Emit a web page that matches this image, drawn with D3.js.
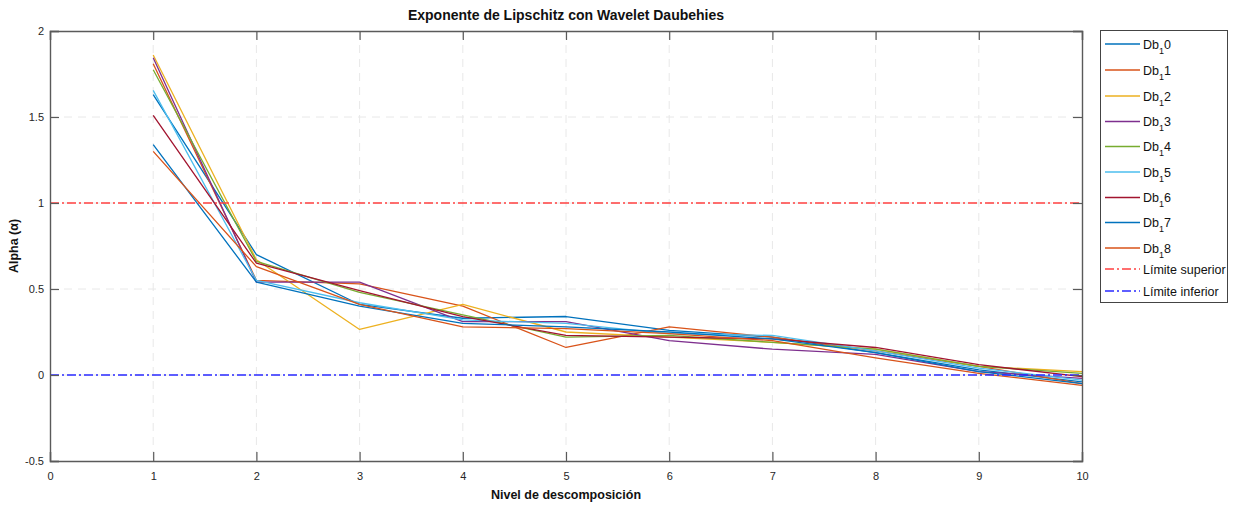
<!DOCTYPE html>
<html>
<head>
<meta charset="utf-8">
<script src="https://cdn.jsdelivr.net/npm/d3@7"></script>
<style>
  html, body { margin: 0; padding: 0; background: #fff; }
  svg { display: block; font-family: "Liberation Sans", Arial, Helvetica, sans-serif; }
</style>
</head>
<body>
<svg id="chart" width="1233" height="506"></svg>
<script>
// Decomposition levels
const levels = [1, 2, 3, 4, 5, 6, 7, 8, 9, 10];

// Lipschitz exponent per Daubechies wavelet order
const db10 = [1.63, 0.70, 0.41, 0.33, 0.34, 0.26, 0.22, 0.13, 0.03, -0.04];
const db11 = [1.81, 0.55, 0.53, 0.40, 0.16, 0.28, 0.22, 0.14, 0.05, -0.05];
const db12 = [1.86, 0.67, 0.265, 0.41, 0.25, 0.22, 0.19, 0.15, 0.05, 0.02];
const db13 = [1.845, 0.54, 0.54, 0.31, 0.31, 0.20, 0.15, 0.12, 0.02, -0.02];
const db14 = [1.775, 0.66, 0.48, 0.35, 0.22, 0.23, 0.19, 0.15, 0.05, 0.01];
const db15 = [1.655, 0.55, 0.42, 0.32, 0.30, 0.24, 0.23, 0.14, 0.04, -0.03];
const db16 = [1.51, 0.65, 0.49, 0.34, 0.23, 0.22, 0.21, 0.16, 0.06, -0.01];
const db17 = [1.34, 0.54, 0.40, 0.30, 0.28, 0.25, 0.21, 0.13, 0.02, -0.05];
const db18 = [1.30, 0.63, 0.41, 0.28, 0.27, 0.24, 0.20, 0.10, 0.01, -0.06];

const seriesNames = ["0", "1", "2", "3", "4", "5", "6", "7", "8"];
const seriesValues = [db10, db11, db12, db13, db14, db15, db16, db17, db18];

// Reference limits
const upperLimit = 1;
const lowerLimit = 0;

// Axis ticks
const xTicks = [0, 1, 2, 3, 4, 5, 6, 7, 8, 9, 10];
const yTicks = [-0.5, 0, 0.5, 1, 1.5, 2];

const palette = ["#0072BD", "#D95319", "#EDB120", "#7E2F8E", "#77AC30",
                 "#4DBEEE", "#A2142F", "#0072BD", "#D95319"];

const svg = d3.select("#chart");
const plotL = 50, plotR = 1082, plotT = 31, plotB = 461;

const x = d3.scaleLinear().domain([0, 10]).range([plotL, plotR]);
const y = d3.scaleLinear().domain([-0.5, 2]).range([plotB, plotT]);

// Grid
const grid = svg.append("g").attr("stroke", "#e8e8e8").attr("stroke-width", 1)
  .attr("stroke-dasharray", "8,6");
grid.selectAll("line.gx").data(xTicks.slice(1, -1)).join("line").attr("class", "gx")
  .attr("x1", d => x(d)).attr("x2", d => x(d)).attr("y1", plotT).attr("y2", plotB);
grid.selectAll("line.gy").data(yTicks.slice(1, -1)).join("line").attr("class", "gy")
  .attr("y1", d => y(d)).attr("y2", d => y(d)).attr("x1", plotL).attr("x2", plotR);

// Series lines
const line = d3.line().x((d, i) => x(levels[i])).y(d => y(d));
svg.append("g").selectAll("path").data(seriesValues).join("path")
  .attr("d", d => line(d))
  .attr("fill", "none")
  .attr("stroke", (d, i) => palette[i])
  .attr("stroke-width", 1.3)
  .attr("stroke-linejoin", "round");

// Limit lines
const limits = [
  { v: upperLimit, color: "#ff4040", label: "Límite superior" },
  { v: lowerLimit, color: "#2a2aff", label: "Límite inferior" }
];
svg.append("g").selectAll("line").data(limits).join("line")
  .attr("x1", plotL).attr("x2", plotR)
  .attr("y1", d => y(d.v)).attr("y2", d => y(d.v))
  .attr("stroke", d => d.color).attr("stroke-width", 1.3)
  .attr("stroke-dasharray", "9,3,2,3");

// Axes box with inward ticks
const axisColor = "#5a5a5a";
const plainNum = d => String(d);
const bottomAxis = d3.axisBottom(x).tickValues(xTicks).tickSize(-9).tickPadding(11)
  .tickFormat(plainNum);
const topAxis = d3.axisTop(x).tickValues(xTicks).tickSize(-9).tickFormat("");
const leftAxis = d3.axisLeft(y).tickValues(yTicks).tickSize(-9).tickPadding(6)
  .tickFormat(plainNum);
const rightAxis = d3.axisRight(y).tickValues(yTicks).tickSize(-9).tickFormat("");

function styleAxis(g) {
  g.select(".domain").attr("stroke", axisColor).attr("stroke-width", 1.4);
  g.selectAll(".tick line").attr("stroke", axisColor).attr("stroke-width", 1.2);
  g.selectAll(".tick text").attr("fill", "#262626").attr("font-size", 11)
    .attr("font-family", "Liberation Sans, Arial, sans-serif");
}
svg.append("g").attr("transform", `translate(0,${plotB})`).call(bottomAxis).call(styleAxis);
svg.append("g").attr("transform", `translate(0,${plotT})`).call(topAxis).call(styleAxis);
svg.append("g").attr("transform", `translate(${plotL},0)`).call(leftAxis).call(styleAxis);
svg.append("g").attr("transform", `translate(${plotR},0)`).call(rightAxis).call(styleAxis);

// Titles
svg.append("text").attr("x", (plotL + plotR) / 2).attr("y", 20)
  .attr("text-anchor", "middle").attr("font-weight", "bold").attr("font-size", 14)
  .attr("fill", "#111").text("Exponente de Lipschitz con Wavelet Daubehies");
svg.append("text").attr("x", (plotL + plotR) / 2).attr("y", 499)
  .attr("text-anchor", "middle").attr("font-weight", "bold").attr("font-size", 12.5)
  .attr("fill", "#111").text("Nivel de descomposición");
svg.append("text").attr("transform", `translate(18,${y(0.75)}) rotate(-90)`)
  .attr("text-anchor", "middle").attr("font-weight", "bold").attr("font-size", 12.5)
  .attr("fill", "#111").text("Alpha (α)");

// Legend
const legend = svg.append("g");
legend.append("rect").attr("x", 1100.5).attr("y", 30.5).attr("width", 127).attr("height", 272)
  .attr("fill", "#fff").attr("stroke", "#444").attr("stroke-width", 1);
const entryY = [44, 70, 96, 121.5, 146.5, 172, 197.5, 222.5, 248];
seriesNames.forEach((name, i) => {
  const yy = entryY[i];
  legend.append("line").attr("x1", 1105).attr("x2", 1140).attr("y1", yy).attr("y2", yy)
    .attr("stroke", palette[i]).attr("stroke-width", 1.3);
  const t = legend.append("text").attr("x", 1143).attr("y", yy + 4.5)
    .attr("font-size", 12.5).attr("fill", "#111");
  t.append("tspan").text("Db");
  t.append("tspan").attr("font-size", 9).attr("dy", 5).text("1");
  t.append("tspan").attr("dy", -5).text(name);
});
limits.forEach((d, i) => {
  const yy = [269, 291][i];
  legend.append("line").attr("x1", 1105).attr("x2", 1140).attr("y1", yy).attr("y2", yy)
    .attr("stroke", d.color).attr("stroke-width", 1.3).attr("stroke-dasharray", "9,3,2,3");
  legend.append("text").attr("x", 1143).attr("y", yy + 4.5)
    .attr("font-size", 12.5).attr("fill", "#111").text(d.label);
});
</script>
</body>
</html>
